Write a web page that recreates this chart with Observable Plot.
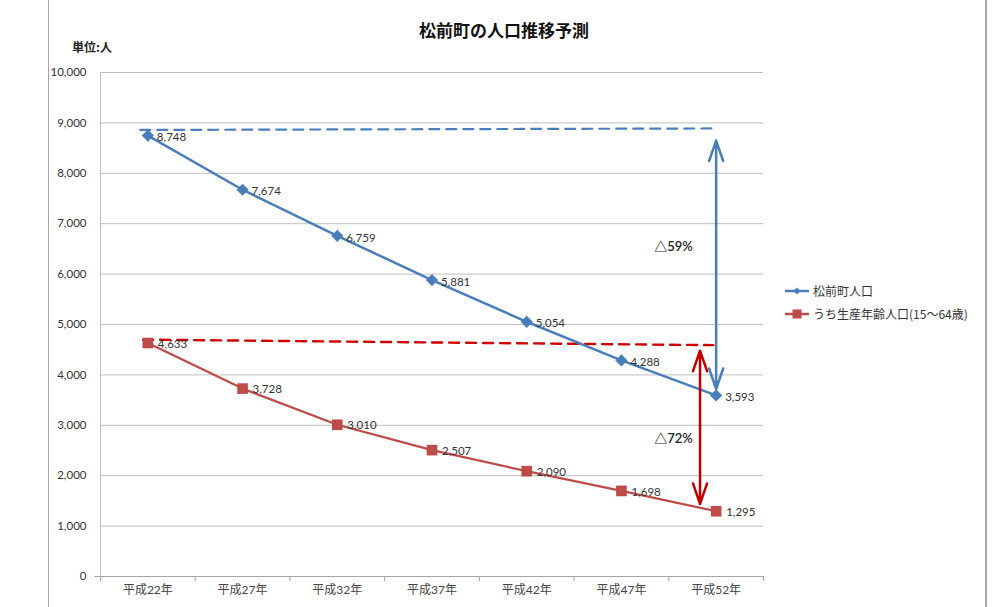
<!DOCTYPE html>
<html>
<head>
<meta charset="utf-8">
<script src="https://cdn.jsdelivr.net/npm/d3@7"></script>
<script src="https://cdn.jsdelivr.net/npm/@observablehq/plot@0.6"></script>
<style>
  html, body { margin: 0; padding: 0; background: #fff; }
  #wrap { position: relative; width: 1008px; height: 607px; overflow: hidden;
          font-family: Lato, "Noto Sans CJK JP", sans-serif; }
  #frame { position: absolute; left: 48px; top: -2px; width: 936px; height: 612px;
           border-left: 1.5px solid #a6a6a6; border-right: 2px solid #a6a6a6; }
  .title { position: absolute; left: 0; width: 1008px; top: 17px; text-align: center;
           font-family: "Noto Sans CJK JP", sans-serif; font-weight: 700; font-size: 17px; color: #111; }
  .unit { position: absolute; left: 72px; top: 38px; font-family: "Noto Sans CJK JP", sans-serif;
          font-weight: 700; font-size: 12px; color: #222; }
  .legend { position: absolute; left: 784px; font-family: "Noto Sans CJK JP", sans-serif;
            font-size: 12px; color: #333; display: flex; align-items: center; }
  .legend svg { margin-right: 3px; }
  #chart { position: absolute; left: 0; top: 0; }
</style>
</head>
<body>
<div id="wrap">
  <div id="frame"></div>
  <div id="chart"></div>
  <div class="title" id="title"></div>
  <div class="unit" id="unit"></div>
  <div class="legend" id="leg0" style="top:282px"></div>
  <div class="legend" id="leg1" style="top:305px"></div>
</div>
<script>
// Projected population of Matsumae town (persons)
const years = ["平成22年", "平成27年", "平成32年", "平成37年", "平成42年", "平成47年", "平成52年"];
const totalPop = [8748, 7674, 6759, 5881, 5054, 4288, 3593];
const workingPop = [4633, 3728, 3010, 2507, 2090, 1698, 1295];
const seriesNames = ["松前町人口", "うち生産年齢人口(15～64歳)"];
const yTicks = d3.range(0, 10001, 1000);

// Reference levels (dashed) and decline arrows
const totalRef = [{i: -0.08, v: 8860}, {i: 6.02, v: 8890}];
const workingRef = [{i: -0.05, v: 4700}, {i: 5.97, v: 4590}];
const totalArrow = {i: 6, top: 8650, bottom: 3720, mid: 6200, label: "△59%", labelI: 5.55, labelV: 6550};
const workingArrow = {i: 5.83, top: 4480, bottom: 1440, mid: 3000, label: "△72%", labelI: 5.55, labelV: 2740};

const colors = {total: "#4a7ebb", working: "#be4b48", totalArrow: "#4a7ebb", workingArrow: "#c00000", workingDash: "#d00000"};

const totalRows = years.map((y, i) => ({i, year: y, v: totalPop[i]}));
const workingRows = years.map((y, i) => ({i, year: y, v: workingPop[i]}));
const fmt = d3.format(",");

const arrowStyle = {strokeWidth: 2.5, headLength: 13, headAngle: 38};

const chart = Plot.plot({
  width: 1008,
  height: 607,
  marginLeft: 100,
  marginRight: 245,
  marginTop: 72,
  marginBottom: 31,
  style: {fontFamily: "Lato, 'Noto Sans CJK JP', sans-serif", background: "transparent"},
  x: {domain: [-0.5, 6.5]},
  y: {domain: [0, 10000]},
  marks: [
    Plot.gridY(yTicks, {stroke: "#bfbfbf", strokeOpacity: 1, strokeWidth: 1}),
    Plot.ruleX([-0.5], {stroke: "#bfbfbf", strokeWidth: 1}),
    Plot.ruleY([0], {stroke: "#a6a6a6", strokeWidth: 1.2}),
    Plot.ruleX(d3.range(-0.5, 7, 1), {y1: 0, y2: -100, stroke: "#a6a6a6"}),
    Plot.ruleY([0], {x1: -0.5, x2: -0.56, stroke: "#a6a6a6"}),
    Plot.axisY({ticks: yTicks, tickFormat: fmt, tickSize: 0, tickPadding: 14,
                fontSize: 11.5, color: "#333", label: null}),
    Plot.axisX({ticks: d3.range(years.length), tickFormat: i => years[i], tickSize: 0,
                tickPadding: 9, fontSize: 12, color: "#444", label: null}),

    // dashed reference levels
    Plot.line(totalRef, {x: "i", y: "v", stroke: colors.total, strokeWidth: 2.2, strokeDasharray: "10,7"}),
    Plot.line(workingRef, {x: "i", y: "v", stroke: colors.workingDash, strokeWidth: 2.4, strokeDasharray: "10,7"}),

    // series lines
    Plot.line(totalRows, {x: "i", y: "v", stroke: colors.total, strokeWidth: 2.5}),
    Plot.line(workingRows, {x: "i", y: "v", stroke: colors.working, strokeWidth: 2.2}),
    Plot.dot(totalRows, {x: "i", y: "v", symbol: "diamond2", r: 5.5, fill: colors.total, stroke: "none"}),
    Plot.dot(workingRows, {x: "i", y: "v", symbol: "square", r: 6, fill: colors.working, stroke: "none"}),

    // double-headed arrows (two heads from the middle)
    Plot.arrow([totalArrow], {x1: "i", x2: "i", y1: "mid", y2: "top", stroke: colors.totalArrow, ...arrowStyle}),
    Plot.arrow([totalArrow], {x1: "i", x2: "i", y1: "mid", y2: "bottom", stroke: colors.totalArrow, ...arrowStyle}),
    Plot.arrow([workingArrow], {x1: "i", x2: "i", y1: "mid", y2: "top", stroke: colors.workingArrow, ...arrowStyle}),
    Plot.arrow([workingArrow], {x1: "i", x2: "i", y1: "mid", y2: "bottom", stroke: colors.workingArrow, ...arrowStyle}),

    // value labels
    Plot.text(totalRows, {x: "i", y: "v", text: d => fmt(d.v), textAnchor: "start", dx: 9, dy: 2, fontSize: 11.5, fill: "#333"}),
    Plot.text(workingRows, {x: "i", y: "v", text: d => fmt(d.v), textAnchor: "start", dx: 10, dy: 1, fontSize: 11.5, fill: "#333"}),

    // decline rates
    Plot.text([totalArrow, workingArrow], {x: "labelI", y: "labelV", text: "label", fontSize: 13, fill: "#222", fontWeight: 600})
  ]
});
document.getElementById("chart").appendChild(chart);

document.getElementById("title").textContent = "松前町の人口推移予測";
document.getElementById("unit").textContent = "単位:人";

// legend entries
const legendSpecs = [
  {name: seriesNames[0], color: colors.total, marker: "diamond"},
  {name: seriesNames[1], color: colors.working, marker: "square"}
];
legendSpecs.forEach((s, k) => {
  const el = document.getElementById("leg" + k);
  const svg = d3.create("svg").attr("width", 26).attr("height", 16);
  svg.append("line").attr("x1", 1).attr("x2", 25).attr("y1", 8).attr("y2", 8)
     .attr("stroke", s.color).attr("stroke-width", 2.5);
  if (s.marker === "diamond") {
    svg.append("path").attr("d", "M13,4.5L16.5,8L13,11.5L9.5,8Z").attr("fill", s.color);
  } else {
    svg.append("rect").attr("x", 8.5).attr("y", 3.5).attr("width", 9).attr("height", 9).attr("fill", s.color);
  }
  el.appendChild(svg.node());
  const span = document.createElement("span");
  span.textContent = s.name;
  el.appendChild(span);
});
</script>
</body>
</html>
